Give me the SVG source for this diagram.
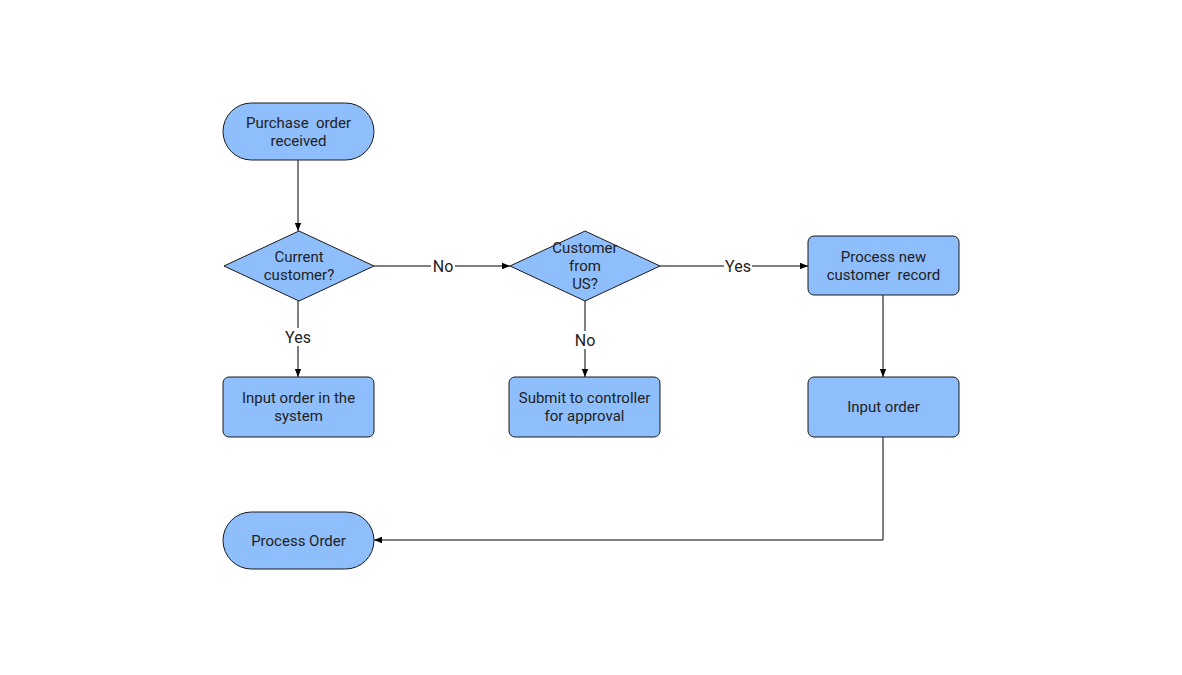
<svg xmlns="http://www.w3.org/2000/svg" width="1182" height="675" viewBox="0 0 1182 675">
<style>
.n{fill:#8ebefb;stroke:#1a1a1a;stroke-width:1}
.t{font-family:Roboto,"Liberation Sans",sans-serif;font-size:15px;fill:#222;text-anchor:middle;white-space:pre}
.l{font-family:Roboto,"Liberation Sans",sans-serif;font-size:16px;fill:#222;text-anchor:middle}
.c{fill:none;stroke:#000;stroke-width:1}
.bg{fill:#fff}
</style>
<defs>
<marker id="a" viewBox="0 0 10 10" refX="10" refY="5" markerWidth="8" markerHeight="8" markerUnits="userSpaceOnUse" orient="auto">
<path d="M0,1 L10,5 L0,9 Z" fill="#000"/>
</marker>
</defs>
<rect width="1182" height="675" fill="#fff"/>
<g id="connectors">
<path class="c" d="M298,160 V231" marker-end="url(#a)"/>
<path class="c" d="M374,266 H510" marker-end="url(#a)"/>
<path class="c" d="M298,301 V377" marker-end="url(#a)"/>
<path class="c" d="M660,266 H808" marker-end="url(#a)"/>
<path class="c" d="M585,301 V377" marker-end="url(#a)"/>
<path class="c" d="M883,295 V377" marker-end="url(#a)"/>
<path class="c" d="M883,437 V540 H374" marker-end="url(#a)"/>
<rect class="bg" x="431" y="257" width="24" height="18"/>
<text class="l" x="443" y="272">No</text>
<rect class="bg" x="284" y="328" width="28" height="18"/>
<text class="l" x="298" y="343">Yes</text>
<rect class="bg" x="724" y="257" width="28" height="18"/>
<text class="l" x="738" y="272">Yes</text>
<rect class="bg" x="573" y="331" width="24" height="18"/>
<text class="l" x="585" y="346">No</text>
</g>
<g id="start">
<rect class="n" x="223" y="103" width="151" height="57" rx="28.5"/>
<text class="t" x="298.5" y="128" xml:space="preserve">Purchase  order</text>
<text class="t" x="298.5" y="146">received</text>
</g>
<g id="current">
<polygon class="n" points="224,266 299,231 374,266 299,301"/>
<text class="t" x="299" y="262">Current</text>
<text class="t" x="299" y="280">customer?</text>
</g>
<g id="fromus">
<polygon class="n" points="510,266 585,231 660,266 585,301"/>
<text class="t" x="585" y="253">Customer</text>
<text class="t" x="585" y="271">from</text>
<text class="t" x="585" y="289">US?</text>
</g>
<g id="newrecord">
<rect class="n" x="808" y="236" width="151" height="59" rx="6"/>
<text class="t" x="883.5" y="262">Process new</text>
<text class="t" x="883.5" y="280" xml:space="preserve">customer  record</text>
</g>
<g id="inputsystem">
<rect class="n" x="223" y="377" width="151" height="60" rx="6"/>
<text class="t" x="298.5" y="403">Input order in the</text>
<text class="t" x="298.5" y="421">system</text>
</g>
<g id="submit">
<rect class="n" x="509" y="377" width="151" height="60" rx="6"/>
<text class="t" x="584.5" y="403">Submit to controller</text>
<text class="t" x="584.5" y="421">for approval</text>
</g>
<g id="inputorder">
<rect class="n" x="808" y="377" width="151" height="60" rx="6"/>
<text class="t" x="883.5" y="412">Input order</text>
</g>
<g id="processorder">
<rect class="n" x="223" y="512" width="151" height="57" rx="28.5"/>
<text class="t" x="298.5" y="546">Process Order</text>
</g>
</svg>
